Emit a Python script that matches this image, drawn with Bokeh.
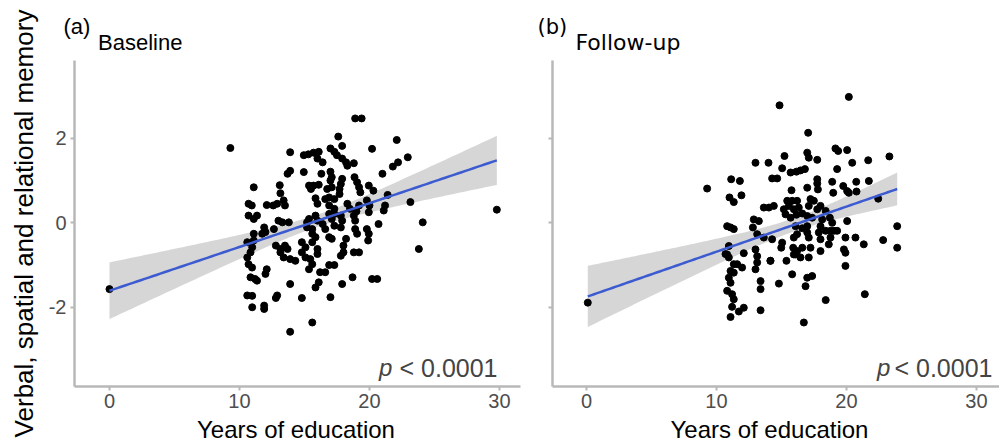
import numpy as np
from bokeh.plotting import figure
from bokeh.models import Label, Range1d, FixedTicker, Title
from bokeh.layouts import row
from bokeh.embed import file_html
from bokeh.resources import INLINE

# ---------------- data ----------------
baseline_edu = [18.9, 19.4, 17.6, 22.1, 17.9, 20.2, 13.9, 14.95, 15.3, 15.7, 16.1, 17.0, 17.3, 17.5,
                16.0, 16.4, 17.9, 18.2, 18.3, 18.8, 22.95, 22.2, 21.8, 13.9, 13.7, 14.95, 16.3, 17.0,
                17.1, 17.0, 17.9, 17.8, 18.85, 19.05, 21.0, 11.1, 13.1, 13.15, 15.35, 15.7, 16.1, 15.5,
                16.75, 17.1, 17.7, 17.7, 19.2, 19.3, 19.95, 20.3, 21.4, 10.7, 10.95, 10.7, 12.1, 12.6,
                12.9, 13.4, 13.5, 15.85, 16.0, 16.6, 16.9, 17.3, 16.9, 17.3, 18.3, 18.5, 19.2, 19.0,
                19.8, 20.0, 23.15, 21.2, 21.1, 11.1, 11.35, 13.0, 13.3, 13.8, 15.2, 15.35, 15.85, 16.0,
                16.9, 17.3, 17.1, 17.8, 17.9, 18.8, 18.9, 19.95, 20.7, 11.9, 12.0, 11.75, 12.65, 11.1,
                15.2, 15.6, 15.6, 16.4, 16.6, 17.3, 17.8, 18.9, 19.05, 19.8, 19.95, 19.9, 23.8, 10.6,
                11.1, 10.98, 10.85, 12.8, 13.15, 13.5, 13.7, 14.8, 15.08, 15.85, 15.6, 16.0, 16.9, 17.1,
                18.2, 18.0, 18.8, 19.2, 10.6, 10.7, 13.15, 13.4, 13.9, 14.3, 14.8, 15.08, 15.45, 15.6,
                16.0, 17.8, 18.0, 12.1, 12.0, 15.35, 16.2, 16.6, 16.9, 17.3, 16.1, 15.85, 10.85, 11.2,
                13.9, 17.9, 18.7, 20.2, 20.6, 10.6, 10.98, 12.9, 12.8, 14.8, 17.0, 10.98, 11.9, 11.9,
                15.6, 13.9, 9.3, 0.0, 29.8, 24.1, 10.97, 11.35]
baseline_mem = [2.47, 2.47, 2.04, 1.96, 1.82, 1.75, 1.67, 1.60, 1.62, 1.66, 1.68, 1.76, 1.68, 1.60,
                1.52, 1.43, 1.52, 1.43, 1.35, 1.41, 1.55, 1.43, 1.33, 1.23, 1.16, 1.20, 1.16, 1.21,
                1.08, 1.00, 1.04, 0.92, 1.08, 0.96, 1.16, 0.84, 0.89, 0.70, 0.88, 0.88, 0.90, 0.80,
                0.80, 0.84, 0.80, 0.68, 0.84, 0.72, 0.88, 0.76, 0.66, 0.45, 0.41, 0.17, 0.42, 0.41,
                0.45, 0.53, 0.41, 0.58, 0.45, 0.56, 0.60, 0.56, 0.41, 0.33, 0.45, 0.33, 0.41, 0.27,
                0.53, 0.41, 0.49, 0.41, 0.29, 0.09, 0.17, 0.05, 0.01, 0.01, 0.01, 0.09, 0.17, 0.05,
                0.21, 0.21, 0.09, 0.17, 0.05, 0.17, 0.05, 0.25, -0.03, -0.11, -0.22, -0.26, -0.15, -0.26,
                -0.11, -0.15, -0.26, -0.03, -0.15, -0.07, -0.11, -0.15, -0.26, -0.15, -0.26, -0.42, -0.62, -0.46,
                -0.42, -0.58, -0.70, -0.54, -0.62, -0.54, -0.62, -0.46, -0.58, -0.34, -0.46, -0.62, -0.34, -0.38,
                -0.38, -0.54, -0.70, -0.70, -0.82, -0.98, -0.70, -0.82, -0.86, -0.90, -0.70, -0.82, -0.86, -0.98,
                -0.74, -0.78, -0.70, -1.10, -1.21, -1.10, -1.17, -1.17, -1.00, -1.00, -1.41, -1.53, -1.29, -1.33,
                -1.45, -1.45, -1.29, -1.33, -1.33, -1.72, -1.73, -1.72, -1.78, -1.78, -1.76, -2.00, -1.96, -2.04,
                -2.36, -2.58, 1.77, -1.57, 0.31, 0.01, -1.06, -1.37]

followup_edu = [20.18, 14.85, 17.05, 19.15, 19.36, 20.05, 16.98, 17.1, 15.23, 13.0, 14.0, 17.75, 19.28,
                20.44, 21.67, 23.3, 15.05, 15.7, 16.15, 16.46, 16.8, 11.13, 11.8, 14.28, 14.67, 17.75,
                17.75, 17.8, 18.9, 19.75, 20.05, 20.75, 21.72, 16.98, 15.77, 11.0, 11.33, 11.92, 18.98,
                20.18, 20.77, 13.64, 14.03, 14.41, 15.44, 15.82, 16.2, 17.23, 17.49, 15.18, 15.57, 15.95,
                16.33, 17.1, 17.75, 18.0, 18.4, 22.44, 15.31, 15.7, 16.15, 16.6, 16.98, 17.36, 12.87,
                13.26, 18.13, 18.72, 18.9, 20.05, 10.82, 11.08, 11.33, 12.8, 16.08, 16.98, 16.6, 18.0,
                18.4, 18.77, 19.28, 23.9, 13.13, 13.64, 14.28, 15.05, 15.95, 16.2, 16.98, 17.1, 17.87,
                18.0, 18.77, 19.03, 19.92, 20.69, 21.33, 22.82, 23.9, 10.95, 10.82, 12.1, 13.0, 14.98,
                15.9, 15.95, 16.2, 16.6, 17.23, 18.0, 18.64, 19.8, 19.92, 10.95, 11.33, 11.59, 13.13,
                13.13, 14.15, 15.38, 16.08, 16.46, 17.1, 19.92, 11.08, 11.33, 11.97, 13.0, 15.82, 16.98,
                17.36, 10.95, 11.08, 13.39, 13.39, 14.8, 16.85, 10.82, 11.2, 11.33, 21.41, 18.4, 11.2,
                11.72, 12.1, 13.39, 11.08, 16.72, 9.28, 0.1, 10.69, 14.15]
followup_mem = [2.98, 2.78, 2.13, 1.76, 1.70, 1.72, 1.66, 1.54, 1.58, 1.42, 1.42, 1.49, 1.27,
                1.42, 1.48, 1.57, 1.29, 1.19, 1.21, 1.24, 1.27, 1.03, 0.99, 1.05, 1.05, 1.03,
                0.93, 0.79, 0.97, 0.87, 0.75, 0.97, 0.99, 0.83, 0.77, 0.60, 0.49, 0.65, 0.71,
                0.71, 0.74, 0.36, 0.36, 0.40, 0.52, 0.52, 0.52, 0.56, 0.52, 0.32, 0.40, 0.32,
                0.36, 0.40, 0.32, 0.40, 0.28, 0.57, 0.20, 0.12, 0.19, 0.22, 0.16, 0.12, 0.08,
                0.04, 0.08, 0.12, 0.00, 0.04, -0.08, -0.11, -0.15, -0.11, -0.08, -0.08, -0.13, -0.08,
                -0.19, -0.19, -0.19, -0.08, -0.27, -0.35, -0.39, -0.47, -0.35, -0.27, -0.23, -0.35, -0.23,
                -0.39, -0.35, -0.19, -0.35, -0.35, -0.51, -0.41, -0.59, -0.55, -0.75, -0.72, -0.63, -0.59,
                -0.59, -0.75, -0.67, -0.59, -0.59, -0.67, -0.51, -0.63, -0.71, -0.82, -0.98, -0.98, -0.79,
                -0.94, -0.90, -0.90, -0.75, -0.82, -0.82, -1.02, -1.14, -1.18, -1.06, -1.10, -1.22, -1.30,
                -1.26, -1.30, -1.42, -1.38, -1.57, -1.44, -1.50, -1.61, -1.69, -1.81, -1.69, -1.83, -1.99,
                -2.10, -2.01, -2.07, -2.23, -2.36, 0.81, -1.89, -0.74, -0.90]

x_ticks = [0, 10, 20, 30]
y_ticks = [-2, 0, 2]
panel_tags = ["(a)", "(b)"]
panel_titles = ["Baseline", "Follow-up"]
p_value_text = "< 0.0001"
x_label = "Years of education"
y_label = "Verbal, spatial and relational memory"

AXIS_GREY = "#b8b8b8"
TEXT_GREY = "#4d4d4d"
FONT = "Liberation Sans"


def lm_band(x, y):
    x = np.asarray(x, float)
    y = np.asarray(y, float)
    n = len(x)
    b1, b0 = np.polyfit(x, y, 1)
    resid = y - (b0 + b1 * x)
    s = np.sqrt((resid ** 2).sum() / (n - 2))
    xs = np.linspace(x.min(), x.max(), 100)
    fit = b0 + b1 * xs
    sxx = ((x - x.mean()) ** 2).sum()
    se = s * np.sqrt(1.0 / n + (xs - x.mean()) ** 2 / sxx)
    t = 1.972
    return xs, fit, fit - t * se, fit + t * se


def make_panel(xs, ys, width, xr, border_left, border_right, show_ylabels):
    p = figure(width=width, height=445, x_range=Range1d(*xr), y_range=Range1d(-3.875, 3.841),
               output_backend="svg", toolbar_location=None, title=None,
               min_border_left=border_left, min_border_right=border_right,
               min_border_top=60, min_border_bottom=59)
    p.outline_line_color = None
    p.grid.visible = False
    p.background_fill_color = "white"
    p.border_fill_color = "white"

    bx, fit, lo, hi = lm_band(xs, ys)
    p.varea(x=bx, y1=lo, y2=hi, fill_color="#999999", fill_alpha=0.4)
    p.scatter(xs, ys, size=7, color="black")
    p.line(bx, fit, line_color="#3d5bd0", line_width=2.5)

    p.xaxis.ticker = FixedTicker(ticks=x_ticks)
    p.yaxis.ticker = FixedTicker(ticks=y_ticks)
    for ax in (p.xaxis, p.yaxis):
        ax.axis_line_color = AXIS_GREY
        ax.axis_line_width = 2.5
        ax.major_tick_line_color = AXIS_GREY
        ax.major_tick_line_width = 2
        ax.major_tick_out = 4
        ax.major_tick_in = 0
        ax.minor_tick_line_color = None
        ax.major_label_text_font = FONT
        ax.major_label_text_font_size = "20px"
        ax.major_label_text_color = TEXT_GREY
    p.xaxis.major_label_standoff = 3
    p.yaxis.major_label_standoff = 4
    if show_ylabels:
        p.yaxis.major_label_overrides = {t: str(t) for t in y_ticks}
    else:
        p.yaxis.major_label_overrides = {t: "" for t in y_ticks}
    return p


def add_title(p, text, side, offset, standoff, size, font=FONT, align="left"):
    p.add_layout(Title(text=text, align=align, offset=offset, standoff=standoff,
                       text_font=font, text_font_size=size, text_font_style="normal",
                       text_color="black"), side)


def add_pvalue(p, x_p, x_end, y):
    p.add_layout(Label(x=x_p, y=y, text="p", text_font=FONT, text_font_size="24px",
                       text_font_style="italic", text_align="right", text_baseline="alphabetic"))
    p.add_layout(Label(x=x_end, y=y, text=p_value_text, text_font=FONT, text_font_size="25px",
                       text_align="right", text_baseline="alphabetic"))


# ---------------- left panel ----------------
p1 = make_panel(baseline_edu, baseline_mem, 534, (-2.69, 31.62), 74, 14, True)
p1.yaxis.axis_label = y_label
p1.yaxis.axis_label_text_font = FONT
p1.yaxis.axis_label_text_font_size = "26px"
p1.yaxis.axis_label_text_font_style = "normal"
p1.yaxis.axis_label_text_color = "black"
p1.yaxis.axis_label_standoff = 7
add_title(p1, panel_titles[0], "above", 23.5, 12, "22px")
add_title(p1, panel_tags[0], "above", -11, -35, "22px")
add_title(p1, x_label, "below", 122.5, 6, "24px")
add_pvalue(p1, 21.77, 29.85, -3.43)

# ---------------- right panel ----------------
p2 = make_panel(followup_edu, followup_mem, 465, (-2.615, 31.77), 18, 0, False)
add_title(p2, panel_titles[1], "above", 23, 12, "22px", font="DejaVu Sans")
add_title(p2, panel_tags[1], "above", -15, -35, "21px", font="DejaVu Sans")
add_title(p2, x_label, "below", 118, 6, "24px")
add_pvalue(p2, 23.38, 31.23, -3.43)

layout = row(p1, p2)
open("out.html", "w").write(file_html(layout, INLINE))
